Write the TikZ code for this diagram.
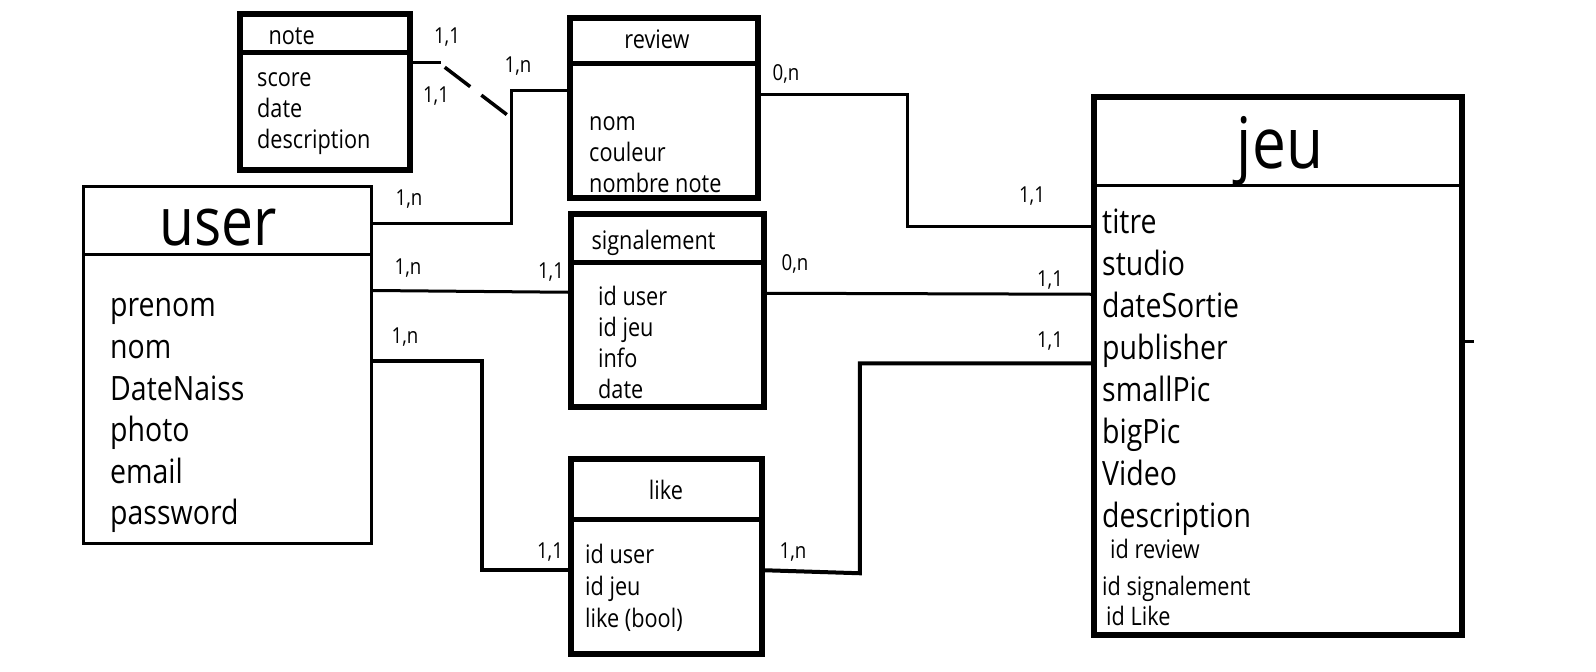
\documentclass[tikz,border=0pt]{standalone}
\usepackage{fontspec}
\setmainfont[FakeStretch=0.85]{Open Sans}
\usepackage{tikz}
\usetikzlibrary{calc}
\usetikzlibrary{matrix,positioning}
\newcommand{\attrfont}{\fontsize{25.5}{30}\selectfont}
\newcommand{\bigattrfont}{\fontsize{33.5}{40}\selectfont}
\newcommand{\cardfont}{\fontsize{22}{26}\selectfont}
\newcommand{\titlefont}{\fontsize{67}{80}\selectfont}
\tikzset{
  entity/.style={draw, line width=5.5pt, inner sep=0pt},
  card/.style={font=\cardfont, inner sep=0pt},
  link/.style={line width=3.5pt},
  attrs/.style={matrix of nodes, inner sep=0pt, anchor=north west,
    nodes={anchor=base west, inner sep=0pt, text height=18pt, text depth=5pt, font=\attrfont},
    row sep=8pt},
  bigattrs/.style={attrs, nodes={text height=24pt, text depth=7pt, font=\bigattrfont}, row sep=10.6pt},
}

\begin{document}
\begin{tikzpicture}[x=1pt,y=-1pt]
        \path[fill=white] (0,0) rectangle (1596,672);
        % entites
        \node[entity, minimum width=170pt, minimum height=156pt] (note) at (325,92) {};
        \node[entity, minimum width=188pt, minimum height=180pt] (review) at (664,108) {};
        \node[entity, minimum width=193pt, minimum height=193pt] (signalement) at (667.5,310.5) {};
        \node[entity, minimum width=191pt, minimum height=195pt] (like) at (666.5,556.5) {};
        \node[entity, line width=3pt, minimum width=288pt, minimum height=357pt] (user) at (227.5,365) {};
        \node[entity, minimum width=368pt, minimum height=538pt] (jeu) at (1278,366) {};
        \draw[line width=5.5pt] ([yshift=-41pt]note.north west) -- ([yshift=-41pt]note.north east);
        \draw[line width=5.5pt] ([yshift=-48pt]review.north west) -- ([yshift=-48pt]review.north east);
        \draw[line width=5.5pt] ([yshift=-51pt]signalement.north west) -- ([yshift=-51pt]signalement.north east);
        \draw[line width=5.5pt] ([yshift=-63pt]like.north west) -- ([yshift=-63pt]like.north east);
        \draw[line width=3pt] ([yshift=-69.5pt]user.north west) -- ([yshift=-69.5pt]user.north east);
        \draw[line width=3.5pt] ([yshift=-91pt]jeu.north west) -- ([yshift=-91pt]jeu.north east);
        % titres
        \node[anchor=base west, font=\attrfont] (noteT) at (265,44) {note};
        \node[anchor=base, font=\attrfont] (reviewT) at (657,48) {review};
        \node[anchor=base west, font=\attrfont] (signalementT) at (588,249) {signalement};
        \node[anchor=base, font=\attrfont] (likeT) at (666,499) {like};
        \node[anchor=base, font=\titlefont] (userT) at (218,245) {user};
        \node[anchor=base, font=\fontsize{71}{85}\selectfont] (jeuT) at (1280,168) {jeu};
        % attributs
        \matrix (noteA) [attrs] at (257,68) {
          score \\ date \\ description \\
        };
        \matrix (reviewA) [attrs] at (589,112) {
          nom \\ couleur \\ nombre note \\
        };
        \matrix (signalementA) [attrs] at (598,287) {
          id user \\ id jeu \\ info \\ date \\
        };
        \matrix (likeA) [attrs, row sep=9pt] at (585,545) {
          id user \\ id jeu \\ like (bool) \\
        };
        \matrix (userA) [bigattrs] at (110,292.7) {
          prenom \\ nom \\ DateNaiss \\ photo \\ email \\ password \\
        };
        \matrix (jeuA) [bigattrs, row sep=11pt] at (1102,209) {
          titre \\ studio \\ dateSortie \\ publisher \\ smallPic \\ bigPic \\ Video \\ description \\
        };
        \node[anchor=base west, inner sep=0pt, font=\attrfont] (jeuR) at (1110,558) {id review};
        \node[anchor=base west, inner sep=0pt, font=\attrfont] (jeuS) at (1102,595) {id signalement};
        \node[anchor=base west, inner sep=0pt, font=\attrfont] (jeuL) at (1106,625) {id Like};
        % liens
        \coordinate (fork) at (510,117);
        \draw[link] ([yshift=-38.5pt]user.north east) -- ++(138.5,0) |- ([yshift=-75pt]review.north west);
        \draw[link] ([yshift=-51pt]note.north east) -- ++(28,0) coordinate (n2);
        \draw[link, dash pattern=on 32pt off 14pt] ($(n2)+(4,5)$) -- (fork);
        \draw[link, line width=3pt] ([yshift=-79pt]review.north east) -- ++(147,0) |- ([yshift=-132pt]jeu.north west);
        \draw[link, line width=3pt] ([yshift=-105.5pt]user.north east) -- ([yshift=-81pt]signalement.north west);
        \draw[link, line width=3pt] ([yshift=-82pt]signalement.north east) -- ([yshift=-200pt]jeu.north west);
        \draw[link, line width=4pt] ([yshift=-175.5pt]user.north east) -- ++(108.5,0) |- ([yshift=-114pt]like.north west);
        \draw[link, line width=4pt] ([yshift=-114pt]like.north east) -- ++(95,3) |- ([yshift=-269pt]jeu.north west);
        \draw[link, line width=2.5pt] ([yshift=-247pt]jeu.north east) -- ++(9,0);
        % cardinalites
        \node[card] (c1) at (447,37) {1,1};
        \node[card] (c2) at (436,96) {1,1};
        \node[card] (c3) at (518,66) {1,n};
        \node[card] (c4) at (409,199) {1,n};
        \node[card] (c5) at (786,74) {0,n};
        \node[card] (c6) at (1032,196) {1,1};
        \node[card] (c7) at (408,268) {1,n};
        \node[card] (c8) at (551,272) {1,1};
        \node[card] (c9) at (795,264) {0,n};
        \node[card] (c10) at (1050,280) {1,1};
        \node[card] (c11) at (405,337) {1,n};
        \node[card] (c12) at (550,552) {1,1};
        \node[card] (c13) at (793,552) {1,n};
        \node[card] (c14) at (1050,341) {1,1};
      \end{tikzpicture}
\end{document}
